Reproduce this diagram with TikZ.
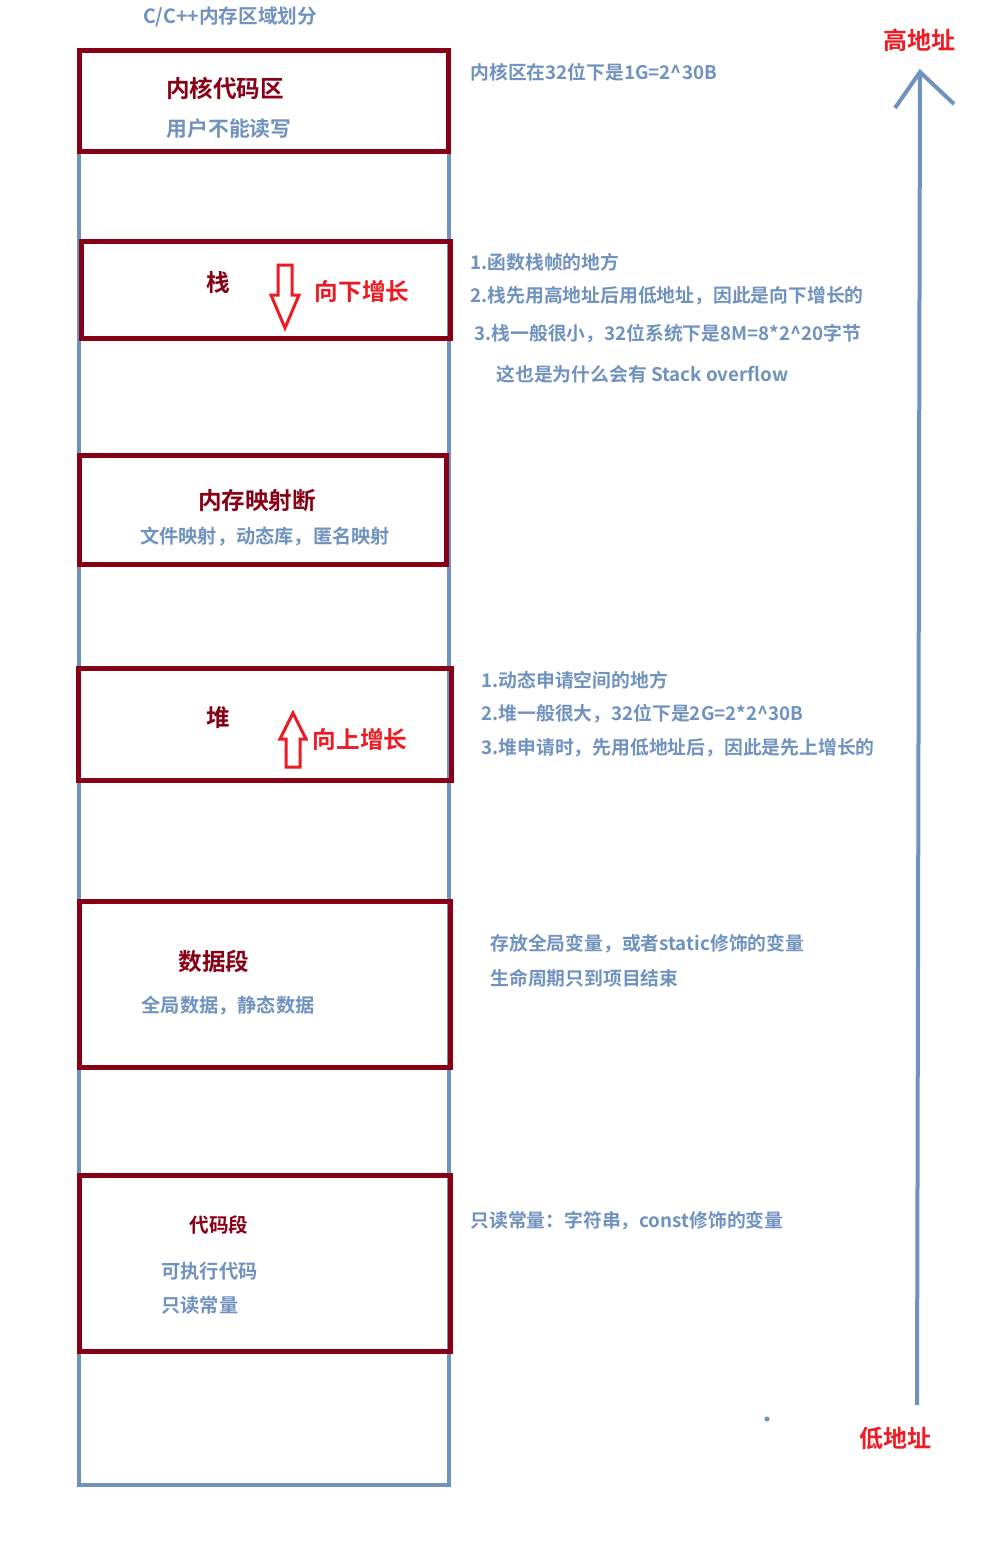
\documentclass[tikz,border=0pt]{standalone}
\usepackage{fontspec}
\setmainfont{Noto Sans CJK SC}[BoldFont={Noto Sans CJK SC Bold}]
\definecolor{segred}{RGB}{136,0,21}
\definecolor{notegray}{RGB}{112,146,190}
\definecolor{growred}{RGB}{237,28,36}

\begin{document}
\begin{tikzpicture}[x=0.5pt,y=-0.5pt]
	\tikzstyle{every node}=[inner sep=0pt]
	\tikzstyle{seg}=[draw=segred, line width=2.5pt]
	\tikzstyle{segtitle}=[text=segred, font=\bfseries\fontsize{11.8}{14}\selectfont]
	\tikzstyle{segnote}=[text=notegray, font=\bfseries\fontsize{9.6}{12}\selectfont]
	\tikzstyle{sidenote}=[text=notegray, anchor=west, font=\bfseries\fontsize{9.4}{12}\selectfont]
	\tikzstyle{growlabel}=[text=growred, font=\bfseries\fontsize{11.8}{14}\selectfont]
	\tikzstyle{growarrow}=[draw=growred, line width=1.5pt, line join=miter]
	
	\useasboundingbox (0,0) rectangle (985,1542);
	
	\node [segnote, font=\bfseries\fontsize{9.8}{12}\selectfont] (title) at (230,17) {C/C++内存区域划分};
	
	\draw [notegray, line width=2.3pt] (79,50) -- (79,1485) -- (449,1485) -- (449,50);
	
	% segments
	\draw [seg] (79,50) rectangle (448,151);
	\node [segtitle] (kernel) at (225,88) {内核代码区};
	\node [segnote, font=\bfseries\fontsize{10.4}{12}\selectfont] (kernelnote) at (229,129) {用户不能读写};
	
	\draw [seg] (81,241) rectangle (450,338);
	\node [segtitle] (stack) at (218,283) {栈};
	\draw [growarrow] (278,265) -- (292,265) -- (292,295) -- (299,295) -- (285,328) -- (271,295) -- (278,295) -- cycle;
	\node [growlabel] (stackgrow) at (362,292) {向下增长};
	
	\draw [seg] (79,455) rectangle (446,564);
	\node [segtitle] (mmap) at (257,501) {内存映射断};
	\node [segnote] (mmapnote) at (265,537) {文件映射，动态库，匿名映射};
	
	\draw [seg] (78,668) rectangle (451,780);
	\node [segtitle] (heap) at (218,718) {堆};
	\draw [growarrow] (286,767) -- (300,767) -- (300,739) -- (306,739) -- (293,713) -- (280,739) -- (286,739) -- cycle;
	\node [growlabel] (heapgrow) at (360,740) {向上增长};
	
	\draw [seg] (79,901) rectangle (450,1067);
	\node [segtitle] (data) at (214,961) {数据段};
	\node [segnote] (datanote) at (228,1006) {全局数据，静态数据};
	
	\draw [seg] (79,1175) rectangle (450,1351);
	\node [segtitle, font=\bfseries\fontsize{9.8}{12}\selectfont] (code) at (219,1225) {代码段};
	\node [segnote, anchor=west] (codenote1) at (161,1271) {可执行代码};
	\node [segnote, anchor=west] (codenote2) at (161,1305) {只读常量};
	
	% notes on the right
	\node [sidenote] (kernelside) at (470,72) {内核区在32位下是1G=2\^{}30B};
	
	\node [sidenote] (stackside1) at (470,262) {1.函数栈帧的地方};
	\node [sidenote] (stackside2) at (470,296) {2.栈先用高地址后用低地址，因此是向下增长的};
	\node [sidenote] (stackside3) at (474,334) {3.栈一般很小，32位系统下是8M=8*2\^{}20字节};
	\node [sidenote] (stackside4) at (496,374) {这也是为什么会有 Stack overflow};
	
	\node [sidenote] (heapside1) at (481,680) {1.动态申请空间的地方};
	\node [sidenote] (heapside2) at (481,714) {2.堆一般很大，32位下是2G=2*2\^{}30B};
	\node [sidenote] (heapside3) at (481,748) {3.堆申请时，先用低地址后，因此是先上增长的};
	
	\node [sidenote] (dataside1) at (490,944) {存放全局变量，或者static修饰的变量};
	\node [sidenote] (dataside2) at (490,978) {生命周期只到项目结束};
	
	\node [sidenote] (codeside) at (470,1221) {只读常量：字符串，const修饰的变量};
	
	% address axis
	\node [growlabel, font=\bfseries\fontsize{12}{14}\selectfont] (high) at (919,40) {高地址};
	\node [growlabel, font=\bfseries\fontsize{12}{14}\selectfont] (low) at (895,1438) {低地址};
	\coordinate (axisbot) at (917,1405);
	\coordinate (axistop) at (920,72);
	\draw [notegray, line width=2pt] (axisbot) -- (axistop);
	\draw [notegray, line width=2pt] (895,108) -- (axistop) -- (954,104);
	\fill [notegray] (767,1419) circle (2.5);
	
\end{tikzpicture}
\end{document}
